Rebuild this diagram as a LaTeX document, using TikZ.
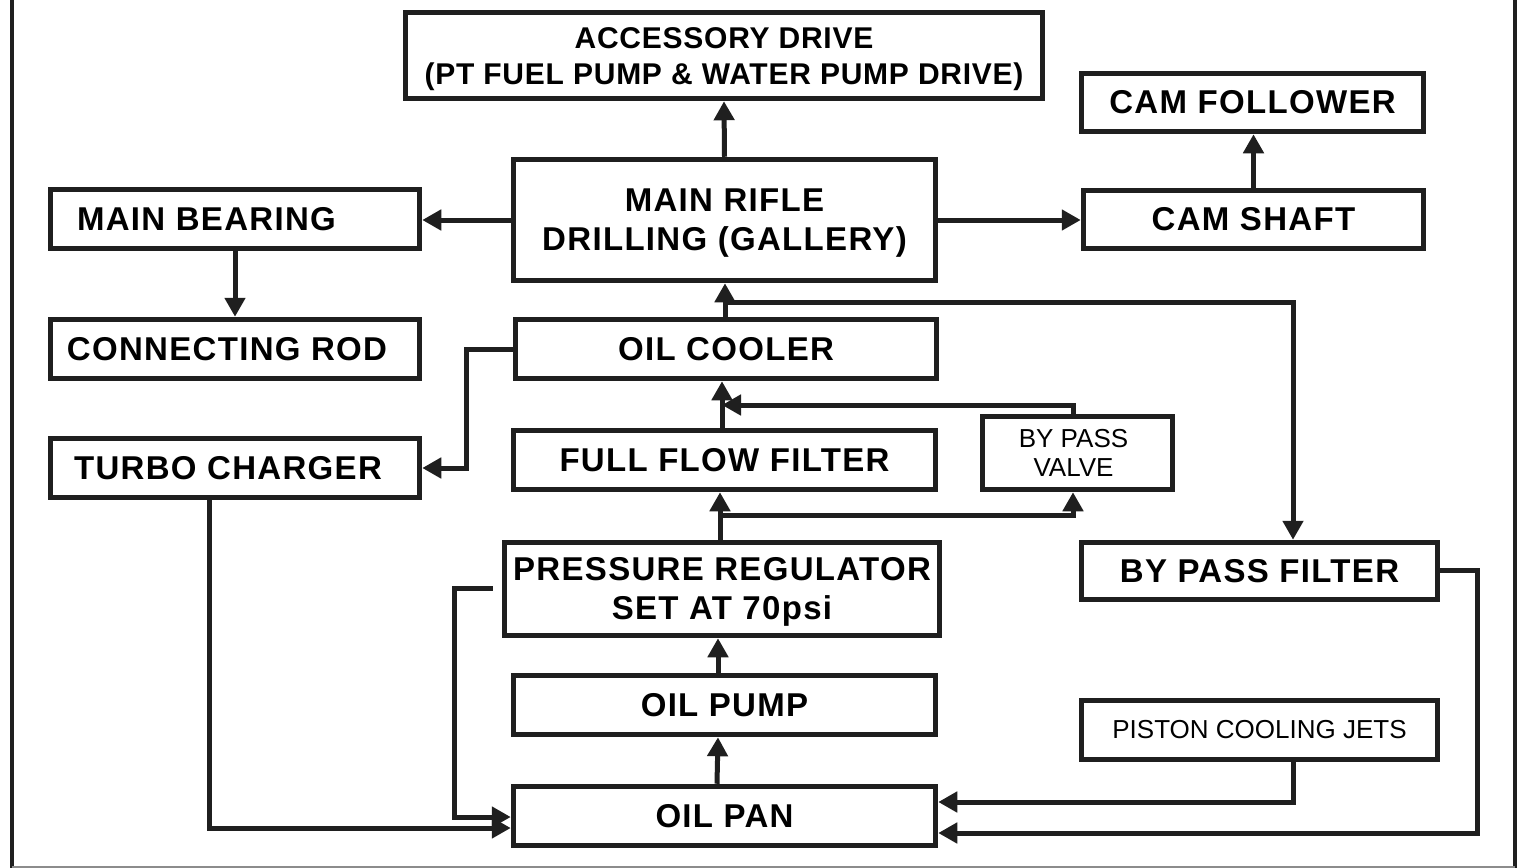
\documentclass[tikz,border=0pt]{standalone}
\usepackage{fontspec}
\setmainfont{Liberation Sans}
\usetikzlibrary{arrows.meta,calc}
\newcommand{\twolines}[2]{\raisebox{-3.5pt}[\height][\depth]{\begin{tabular}{@{}c@{}}#1\\#2\end{tabular}}}
\tikzset{
  box/.style={draw=black!88, line width=5.5pt, inner sep=0pt, font=\fontsize{33}{38.5}\selectfont\bfseries\addfontfeatures{LetterSpace=4}, align=center},
  smallbox/.style={box, font=\fontsize{26}{29}\selectfont},
  arr/.style={draw=black!88, line width=5pt, -{Triangle[length=19pt,width=20pt]}},
  frame/.style={line width=4.5pt, draw=black!88}
}
\begin{document}
\begin{tikzpicture}[x=1pt,y=-1pt]
\useasboundingbox (0,0) rectangle (1519,868);
\fill[white] (0,0) rectangle (1519,868);
% frame
\draw[frame] (12,0) -- (12,868);
\draw[frame] (1515,0) -- (1515,868);
\draw[line width=2pt, draw=black!45] (12,866.5) -- (1515,866.5);
% boxes
\node[box, minimum width=637, minimum height=86, font=\fontsize{30}{36}\selectfont\bfseries\addfontfeatures{LetterSpace=2.5}] (acc) at (724,55.5) {\twolines{ACCESSORY DRIVE}{(PT FUEL PUMP \& WATER PUMP DRIVE)}};
\node[box, minimum width=342, minimum height=58] (camf) at (1252.5,102.5) {CAM FOLLOWER};
\node[box, minimum width=369, minimum height=59] (mainb) at (235,219) {MAIN BEARING\hspace*{57pt}};
\node[box, minimum width=422, minimum height=121] (rifle) at (724.5,220) {\twolines{MAIN RIFLE}{DRILLING (GALLERY)}};
\node[box, minimum width=340, minimum height=58] (cams) at (1253.5,219.5) {CAM SHAFT};
\node[box, minimum width=369, minimum height=59] (conrod) at (235,349) {CONNECTING ROD\hspace*{16pt}};
\node[box, minimum width=421, minimum height=59] (cooler) at (726,349) {OIL COOLER};
\node[box, minimum width=369, minimum height=59] (turbo) at (235,468) {TURBO CHARGER\hspace*{14pt}};
\node[box, minimum width=422, minimum height=59] (fff) at (724.5,460) {FULL FLOW FILTER};
\node[smallbox, minimum width=190, minimum height=73] (bpv) at (1077.5,453) {\hspace*{-8pt}BY PASS\\\hspace*{-8pt}VALVE};
\node[box, minimum width=435, minimum height=93] (preg) at (722,589) {\twolines{PRESSURE REGULATOR}{SET AT 70psi}};
\node[box, minimum width=356, minimum height=57] (bpf) at (1259.5,571) {BY PASS FILTER};
\node[box, minimum width=422, minimum height=59] (pump) at (724.5,705) {OIL PUMP};
\node[smallbox, minimum width=356, minimum height=59] (pcj) at (1259.5,730) {PISTON COOLING JETS};
\node[box, minimum width=422, minimum height=59] (pan) at (724.5,816) {OIL PAN};
% junctions
\coordinate (j1) at (725,302);
\coordinate (j2) at (722,405);
\coordinate (j3) at (720,515);
% connectors
\draw[arr] (rifle.north) -- (acc.south);
\draw[arr] (rifle.west) -- (rifle.west -| mainb.east);
\draw[arr] (rifle.east) -- (rifle.east -| cams.west);
\draw[arr] (cams.north) -- (cams.north |- camf.south);
\draw[arr] (mainb.south) -- (conrod.north);
\draw[arr] (cooler.north -| j1) -- (j1 |- rifle.south);
\draw[arr] (j1) -| ($(bpf.north)+(33.5,0)$);
\draw[arr] (cooler.west) -- ++(-46,0) |- (turbo.east);
\draw[arr] (fff.north -| j2) -- (j2 |- cooler.south);
\draw[arr] ($(bpv.north)+(-4.5,0)$) |- (j2);
\draw[arr] (preg.north -| j3) -- (j3 |- fff.south);
\draw[arr] (j3) -| ($(bpv.south)+(-4.5,0)$);
\draw[arr] ($(pump.north)+(-6.5,0)$) -- ($(preg.south)+(-4,0)$);
\draw[arr] ($(pan.north)+(-7.5,0)$) -- ($(pump.south)+(-6.5,0)$);
\draw[arr] ($(preg.west)+(-9,-1)$) -- ++(-38,0) |- ($(pan.west)+(0,1)$);
\draw[arr] ($(turbo.south)+(-26,0)$) |- ($(pan.west)+(0,12)$);
\draw[arr] ($(pcj.south)+(33.5,0)$) |- ($(pan.east)+(0,-14)$);
\draw[arr] ($(bpf.east)+(0,-1)$) -- ++(37,0) |- ($(pan.east)+(0,17)$);
\end{tikzpicture}
\end{document}
